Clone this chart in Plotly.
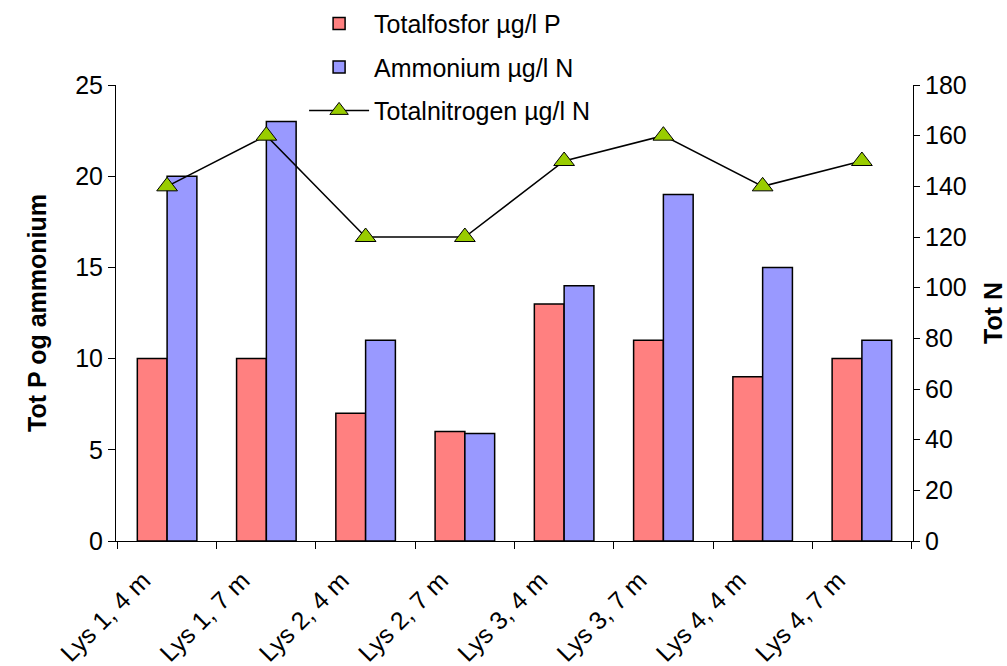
import plotly.graph_objects as go

categories = ["Lys 1, 4 m", "Lys 1, 7 m", "Lys 2, 4 m", "Lys 2, 7 m",
              "Lys 3, 4 m", "Lys 3, 7 m", "Lys 4, 4 m", "Lys 4, 7 m"]
totalfosfor = [10, 10, 7, 6, 13, 11, 9, 10]
ammonium = [20, 23, 11, 5.9, 14, 19, 15, 11]
totalnitrogen = [140, 160, 120, 120, 150, 160, 140, 150]

FONT = "Arial, Liberation Sans, sans-serif"
FS = 25

fig = go.Figure()
fig.add_trace(go.Bar(
    x=categories, y=totalfosfor, name="Totalfosfor µg/l P",
    marker=dict(color="#FF8080", line=dict(color="black", width=1.5)),
    legendgroup="a",
))
fig.add_trace(go.Bar(
    x=categories, y=ammonium, name="Ammonium µg/l N",
    marker=dict(color="#9999FF", line=dict(color="black", width=1.5)),
    legendgroup="b",
))
fig.add_trace(go.Scatter(
    x=categories, y=totalnitrogen, name="Totalnitrogen µg/l N",
    mode="lines+markers", yaxis="y2",
    line=dict(color="black", width=1.5),
    marker=dict(symbol="triangle-up", size=18, color="#99CC00",
                line=dict(color="black", width=1)),
    legendgroup="c",
))

fig.update_layout(
    width=1007, height=666,
    margin=dict(l=116, r=94, t=85, b=125, autoexpand=False),
    paper_bgcolor="white", plot_bgcolor="white",
    font=dict(family=FONT, size=FS, color="black"),
    barmode="group", bargap=0.4, bargroupgap=0,
    showlegend=True,
    legend=dict(x=0.236, y=1.185, xanchor="left", yanchor="top",
                font=dict(size=FS), tracegroupgap=8,
                itemwidth=60, bgcolor="rgba(0,0,0,0)"),
    xaxis=dict(
        type="category", tickangle=-45, showline=True, linecolor="black",
        linewidth=1, ticks="outside", ticklen=7, tickcolor="black",
        tickson="boundaries", showgrid=False, tickfont=dict(size=FS),
        ticklabelshift=-24, ticklabelstandoff=14,
    ),
    yaxis=dict(
        range=[0, 25], dtick=5, showline=True, linecolor="black", linewidth=1,
        ticks="outside", ticklen=7, tickcolor="black", showgrid=False,
        zeroline=False, tickfont=dict(size=FS),
        title=dict(text="<b>Tot P og ammonium</b>", font=dict(size=FS), standoff=21),
    ),
    yaxis2=dict(
        range=[0, 180], dtick=20, overlaying="y", side="right",
        showline=True, linecolor="black", linewidth=1,
        ticks="outside", ticklen=6, tickcolor="black", showgrid=False,
        zeroline=False, tickfont=dict(size=FS),
        title=dict(text="<b>Tot N</b>", font=dict(size=FS), standoff=18),
    ),
)

fig.write_html("out.html")
